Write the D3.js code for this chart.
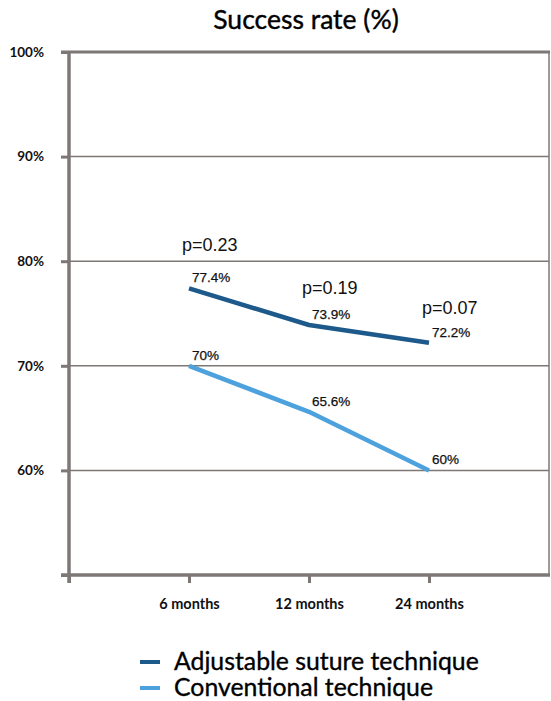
<!DOCTYPE html>
<html>
<head>
<meta charset="utf-8">
<script src="https://cdn.jsdelivr.net/npm/d3@7"></script>
<style>
  html, body { margin: 0; padding: 0; background: #fff; }
  svg { display: block; }
</style>
</head>
<body>
<svg id="chart" width="551" height="701"></svg>
<script>
const categories = ["6 months", "12 months", "24 months"];
const adjustable = [77.4, 73.9, 72.2];
const conventional = [70, 65.6, 60];
const pValues = ["p=0.23", "p=0.19", "p=0.07"];
const yTicks = [50, 60, 70, 80, 90, 100];
const seriesNames = ["Adjustable suture technique", "Conventional technique"];
const colors = ["#1d5a8b", "#4da2dd"];

(function () {
const svg = d3.select("#chart");
const axisColor = "#7d7876";
const mLeft = 69, mRight = 549, mTop = 52, mBottom = 575;

const x = d3.scaleLinear().domain([0, 4]).range([mLeft, mRight]);
const y = d3.scaleLinear().domain([50, 100]).range([mBottom, mTop]);

// title
svg.append("text").attr("x", 306).attr("y", 29).attr("text-anchor", "middle")
  .attr("font-family", "Lato, 'Open Sans', sans-serif").attr("font-size", 26.5)
  .attr("fill", "#000").attr("stroke", "#000").attr("stroke-width", 0.4)
  .text("Success rate (%)");

// gridlines
svg.append("g").selectAll("line").data(yTicks.filter(d => d > 50 && d < 100)).join("line")
  .attr("x1", mLeft).attr("x2", mRight).attr("y1", d => y(d)).attr("y2", d => y(d))
  .attr("stroke", axisColor).attr("stroke-width", 1.5);

// top frame line and right border
svg.append("line").attr("x1", mLeft - 8).attr("x2", mRight + 1).attr("y1", y(100)).attr("y2", y(100))
  .attr("stroke", axisColor).attr("stroke-width", 3);
svg.append("line").attr("x1", mRight).attr("x2", mRight).attr("y1", y(100)).attr("y2", y(50))
  .attr("stroke", axisColor).attr("stroke-width", 1.5);

// y axis
const yAxis = d3.axisLeft(y).tickValues(yTicks).tickSize(8).tickFormat(d => d + "%");
const gy = svg.append("g").attr("transform", `translate(${mLeft},0)`).call(yAxis);
gy.select(".domain").attr("stroke", axisColor).attr("stroke-width", 3.5)
  .attr("d", `M0,${y(100)}V${mBottom + 8}`);
gy.selectAll(".tick line").attr("stroke", axisColor).attr("stroke-width", 3);
gy.selectAll(".tick text").attr("x", -25).attr("text-anchor", "end")
  .attr("font-family", "Lato, 'Open Sans', sans-serif").attr("font-weight", "bold")
  .attr("font-size", 13.5).attr("fill", "#111")
  .text(d => d === 50 ? "" : d + "%");

// x axis
const xAxis = d3.axisBottom(x).tickValues([0, 1, 2, 3, 4]).tickSize(8)
  .tickFormat(d => (d >= 1 && d <= 3) ? categories[d - 1] : "");
const gx = svg.append("g").attr("transform", `translate(0,${mBottom})`).call(xAxis);
gx.select(".domain").attr("stroke", axisColor).attr("stroke-width", 3.5)
  .attr("d", `M${mLeft - 8},0H${mRight + 1}`);
gx.selectAll(".tick line").attr("stroke", axisColor).attr("stroke-width", 3)
  .attr("display", d => d === 4 ? "none" : null);
gx.selectAll(".tick text").attr("y", 34).attr("dy", 0)
  .attr("font-family", "Lato, 'Open Sans', sans-serif").attr("font-weight", "bold")
  .attr("font-size", 14.5).attr("fill", "#111");

// lines
const series = [adjustable, conventional];
const line = d3.line().x((d, i) => x(i + 1)).y(d => y(d));
series.forEach((s, k) => {
  svg.append("path").datum(s).attr("d", line).attr("fill", "none")
    .attr("stroke", colors[k]).attr("stroke-width", 4.5).attr("stroke-linejoin", "round");
  svg.append("g").selectAll("text").data(s).join("text")
    .attr("x", (d, i) => x(i + 1) + 3).attr("y", d => y(d) - 6)
    .attr("font-family", "'Liberation Sans', Arial, sans-serif").attr("font-size", 13.5)
    .attr("fill", "#111").attr("stroke", "#111").attr("stroke-width", 0.25)
    .text(d => d + "%");
});

// p-values
const pOffsets = [37, 31, 29];
svg.append("g").selectAll("text").data(pValues).join("text")
  .attr("x", (d, i) => x(i + 1) - 7)
  .attr("y", (d, i) => y(adjustable[i]) - pOffsets[i])
  .attr("font-family", "'Liberation Sans', Arial, sans-serif").attr("font-size", 18)
  .attr("fill", "#111").text(d => d);

// legend
const lg = svg.append("g");
seriesNames.forEach((name, k) => {
  const ly = 662 + k * 26;
  lg.append("line").attr("x1", 140).attr("x2", 160).attr("y1", ly).attr("y2", ly)
    .attr("stroke", colors[k]).attr("stroke-width", 4);
  lg.append("text").attr("x", 174).attr("y", ly + 8)
    .attr("font-family", "Lato, 'Open Sans', sans-serif").attr("font-size", 24.8)
    .attr("fill", "#000").attr("stroke", "#000").attr("stroke-width", 0.35)
    .text(name);
});
})();
</script>
</body>
</html>
